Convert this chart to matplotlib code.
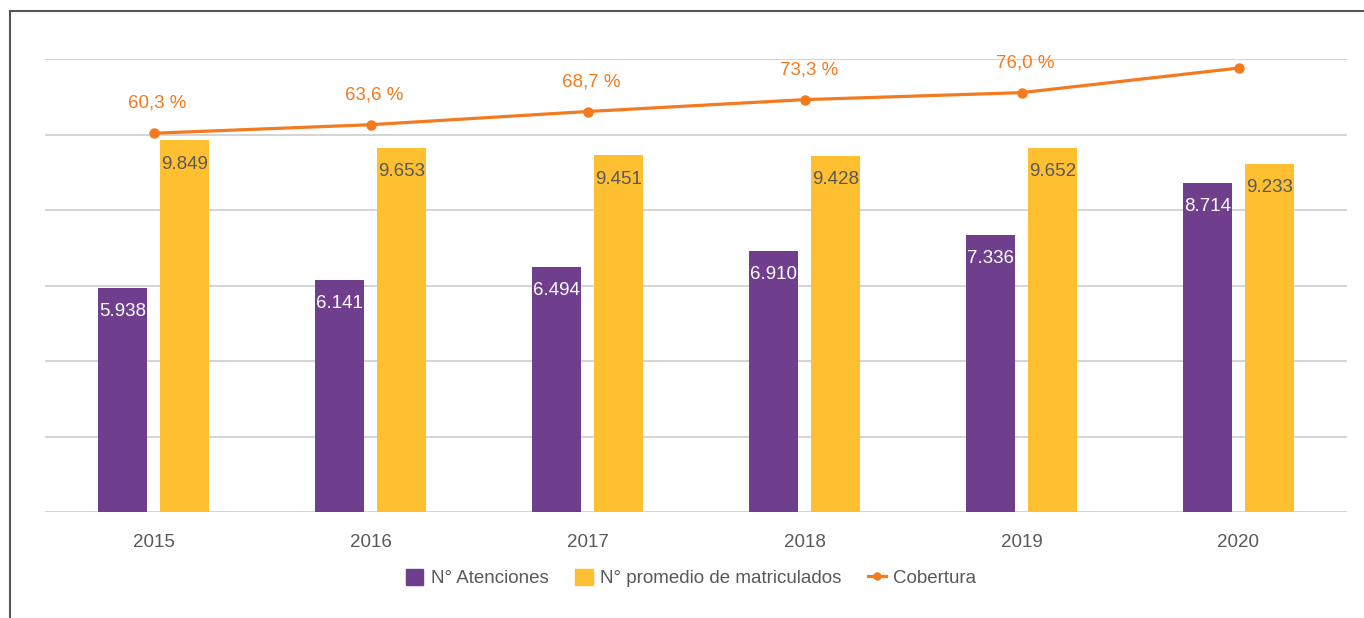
import numpy as np
import matplotlib.pyplot as plt
from matplotlib.lines import Line2D
from matplotlib.patches import Patch

years = ["2015", "2016", "2017", "2018", "2019", "2020"]
atenciones = [5938, 6141, 6494, 6910, 7336, 8714]
matriculados = [9849, 9653, 9451, 9428, 9652, 9233]
cobertura = [60.3, 63.6, 68.7, 73.3, 76.0, 85.5]
cobertura_labels = ["60,3 %", "63,6 %", "68,7 %", "73,3 %", "76,0 %", ""]

purple = "#6F3F8E"
yellow = "#FEBF31"
orange = "#F47A20"
gray_text = "#595959"
fs = 13.5
plt.rcParams["font.family"] = ["Liberation Sans", "DejaVu Sans"]

fig = plt.figure(figsize=(13.64, 6.18), dpi=100)
ax = fig.add_axes([45 / 1364, 1 - 512 / 618, 1302 / 1364, (512 - 59.3) / 618])

x = np.arange(len(years))
w = 0.226
off = 0.143
ax.bar(x - off, atenciones, w, color=purple, zorder=3)
ax.bar(x + off, matriculados, w, color=yellow, zorder=3)

for xi, v in zip(x, atenciones):
    ax.annotate(f"{v:,}".replace(",", "."), (xi - off, v), xytext=(0, -17),
                textcoords="offset points", ha="center", va="center",
                color="white", fontsize=fs, zorder=4)
for xi, v in zip(x, matriculados):
    ax.annotate(f"{v:,}".replace(",", "."), (xi + off, v), xytext=(0, -17),
                textcoords="offset points", ha="center", va="center",
                color=gray_text, fontsize=fs, zorder=4)

ax.set_xlim(-0.5, 5.5)
ax.set_ylim(0, 12000)
ax.set_yticks(np.arange(0, 12001, 2000))
ax.grid(axis="y", color="#CDCDCD", linewidth=1.2, zorder=0)
ax.set_axisbelow(True)
for s in ax.spines.values():
    s.set_visible(False)
ax.set_xticks(x)
ax.set_xticklabels(years)

ax2 = ax.twinx()
ax2.plot(x, cobertura, color=orange, linewidth=2.3, marker="o", markersize=6.5, zorder=5)
for xi, v, lab in zip(x, cobertura, cobertura_labels):
    if lab:
        ax2.annotate(lab, (xi, v), xytext=(3, 21.5), textcoords="offset points",
                     ha="center", va="center", color=orange, fontsize=fs)
ax2.set_ylim(-86.2, 88.9)
ax2.set_yticks([])
for s in ax2.spines.values():
    s.set_visible(False)

ax.tick_params(axis="y", left=False, right=False, labelleft=False)
ax.tick_params(axis="x", bottom=False, pad=12, labelsize=fs, labelcolor=gray_text)

handles = [Patch(color=purple), Patch(color=yellow),
           Line2D([], [], color=orange, linewidth=2.3, marker="o", markersize=5)]
leg = fig.legend(handles, ["N° Atenciones", "N° promedio de matriculados", "Cobertura"],
                 loc="center", bbox_to_anchor=(691 / 1364, 1 - 578 / 618), ncol=3,
                 frameon=False, fontsize=fs, handlelength=0.95, handleheight=0.95,
                 handletextpad=0.4, columnspacing=1.4)
for t in leg.get_texts():
    t.set_color(gray_text)

fig.add_artist(Line2D([10 / 1364, 10 / 1364], [0, 1 - 11 / 618], color="#555555", linewidth=1.5))
fig.add_artist(Line2D([10 / 1364, 1], [1 - 11 / 618, 1 - 11 / 618], color="#555555", linewidth=1.5))

fig.savefig("out.png", dpi=100)
